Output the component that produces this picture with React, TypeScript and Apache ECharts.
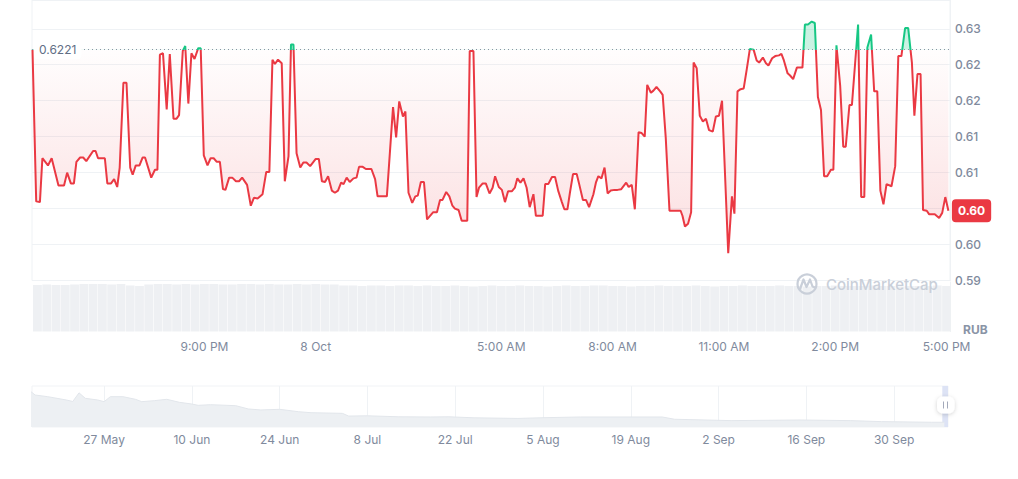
import React, { useEffect, useRef } from "react";
import * as echarts from "echarts";

// ---------- data ----------
const OPEN_PRICE = 0.6221;
// minutes after the open (7 Oct, 16:22)
const minutesFromOpen = [
  0, 6, 12, 16, 25, 31, 42, 51, 56, 62, 67, 71, 77, 82, 87, 98, 102, 106, 117, 121,
  127, 132, 137, 141, 147, 152, 158, 162, 167, 173, 178, 182, 192, 198, 202, 206, 211, 217, 222, 228,
  233, 237, 243, 247, 252, 257, 262, 268, 272, 277, 283, 288, 293, 298, 303, 308, 312, 318, 323, 329,
  334, 339, 347, 353, 358, 364, 372, 378, 383, 388, 392, 397, 403, 408, 414, 418, 422, 427, 433, 438,
  443, 449, 458, 463, 468, 473, 478, 484, 489, 494, 499, 503, 508, 513, 519, 524, 528, 534, 539, 548,
  554, 558, 573, 583, 588, 593, 599, 603, 608, 614, 619, 623, 628, 633, 638, 648, 654, 659, 663, 669,
  674, 679, 683, 689, 694, 703, 707, 713, 718, 722, 728, 733, 739, 744, 748, 754, 759, 764, 769, 775,
  780, 784, 789, 794, 799, 804, 810, 814, 825, 829, 834, 840, 845, 850, 856, 860, 865, 869, 874, 880,
  884, 890, 895, 900, 907, 911, 915, 920, 925, 930, 935, 941, 946, 952, 960, 964, 969, 974, 980, 985,
  990, 994, 1000, 1004, 1009, 1015, 1019, 1024, 1030, 1048, 1051, 1055, 1060, 1065, 1069, 1074, 1079, 1084, 1089, 1094,
  1100, 1105, 1110, 1115, 1125, 1131, 1135, 1140, 1145, 1150, 1155, 1160, 1166, 1171, 1175, 1181, 1186, 1190, 1196, 1201,
  1207, 1211, 1215, 1221, 1225, 1230, 1236, 1245, 1249, 1254, 1260, 1265, 1270, 1275, 1280, 1285, 1291, 1295, 1300, 1306,
  1311, 1315, 1321, 1325, 1335, 1340, 1345, 1350, 1356, 1361, 1366, 1371, 1376, 1381, 1389, 1395, 1400, 1405, 1411, 1416,
  1422, 1426, 1431, 1436, 1440, 1446, 1450, 1459, 1466, 1471, 1476, 1481,
];
const prices = [
  0.6221, 0.601, 0.6009, 0.607, 0.606, 0.607, 0.6032, 0.6032, 0.605, 0.6035, 0.6035, 0.6065, 0.6071, 0.6071, 0.6066, 0.608, 0.608, 0.607, 0.607, 0.6035,
  0.6035, 0.6041, 0.603, 0.6057, 0.6175, 0.6175, 0.6057, 0.6047, 0.606, 0.606, 0.6071, 0.6071, 0.6043, 0.6054, 0.6054, 0.6214, 0.6216, 0.6138, 0.6215, 0.6125,
  0.6125, 0.613, 0.6219, 0.6226, 0.6146, 0.6216, 0.6208, 0.6223, 0.6223, 0.6074, 0.606, 0.607, 0.607, 0.6065, 0.6065, 0.6027, 0.6026, 0.6043, 0.6043, 0.6038,
  0.6038, 0.6043, 0.6033, 0.6004, 0.6015, 0.6014, 0.602, 0.6051, 0.6051, 0.6207, 0.6201, 0.6207, 0.6202, 0.6038, 0.6073, 0.6228, 0.6228, 0.6077, 0.6057, 0.6064,
  0.6064, 0.6059, 0.6069, 0.6069, 0.6038, 0.6037, 0.6045, 0.6025, 0.6022, 0.6025, 0.6036, 0.6034, 0.6043, 0.6037, 0.6042, 0.6043, 0.6058, 0.6058, 0.6055, 0.6055,
  0.6041, 0.6017, 0.6017, 0.6141, 0.6099, 0.6149, 0.6128, 0.6135, 0.6022, 0.6008, 0.6017, 0.6018, 0.6037, 0.6037, 0.5985, 0.5995, 0.5995, 0.6012, 0.6012, 0.6023,
  0.6017, 0.6004, 0.6, 0.5998, 0.5983, 0.5983, 0.6219, 0.6219, 0.6016, 0.6029, 0.6035, 0.6035, 0.6021, 0.6029, 0.6045, 0.603, 0.6026, 0.6009, 0.6024, 0.6024,
  0.6029, 0.6042, 0.6036, 0.6042, 0.6029, 0.6002, 0.602, 0.599, 0.599, 0.6034, 0.6034, 0.6044, 0.6044, 0.6025, 0.6009, 0.5999, 0.5999, 0.6022, 0.6048, 0.6048,
  0.6034, 0.6012, 0.6012, 0.6002, 0.602, 0.6036, 0.6045, 0.6042, 0.6057, 0.6021, 0.6025, 0.6026, 0.6026, 0.6027, 0.6036, 0.603, 0.6033, 0.5999, 0.6106, 0.6105,
  0.61, 0.6172, 0.6161, 0.6164, 0.6169, 0.6163, 0.6158, 0.6098, 0.5997, 0.5997, 0.599, 0.5975, 0.5979, 0.5995, 0.6203, 0.6195, 0.6129, 0.6121, 0.6125, 0.6109,
  0.6107, 0.6128, 0.6129, 0.615, 0.5938, 0.6017, 0.5993, 0.6163, 0.6166, 0.6167, 0.6194, 0.6222, 0.6221, 0.6206, 0.6203, 0.621, 0.6202, 0.6199, 0.6209, 0.6212,
  0.6213, 0.6215, 0.6206, 0.6188, 0.6185, 0.618, 0.6196, 0.6196, 0.6256, 0.6256, 0.626, 0.6258, 0.6155, 0.6137, 0.6045, 0.6045, 0.6054, 0.6054, 0.6227, 0.6171,
  0.6086, 0.6086, 0.6144, 0.6144, 0.6256, 0.6016, 0.6016, 0.6224, 0.6242, 0.6163, 0.6163, 0.6025, 0.6006, 0.6034, 0.6031, 0.6059, 0.6212, 0.6212, 0.6251, 0.6251,
  0.6203, 0.6129, 0.6187, 0.6187, 0.5998, 0.5997, 0.5992, 0.5992, 0.5987, 0.5994, 0.6016, 0.5997,
];
// 15-minute volume bars starting 16:30 (relative units)
const volumes = [
  94, 95, 94, 94, 95, 96, 96, 96, 95, 96, 93, 92,
  95, 96, 96, 95, 96, 95, 96, 96, 95, 95, 96, 96, 95, 96, 95, 95, 96, 95, 96, 95, 95,
  93, 93, 92, 93, 93, 92, 93, 93,
  92, 93, 92, 92, 93, 92, 91, 92, 93, 92,
  92, 93, 92, 92, 91, 92, 93, 92, 92, 93,
  93, 92, 92, 91, 92, 92, 93, 92, 92, 92,
  93, 92, 91, 92, 92, 93, 92, 92, 92, 93,
  92, 92, 91, 92, 92, 93, 92, 92, 92, 93,
  92, 92, 91, 92, 92, 92, 93, 92,
];
// x tick labels: hours after 7 Oct 00:00
const hourTicks = [21, 24, 29, 32, 35, 38, 41];
const hourTickLabels = ["9:00 PM", "8 Oct", "5:00 AM", "8:00 AM", "11:00 AM", "2:00 PM", "5:00 PM"];

// long-range overview (navigator)
const historyDates = [
  "2024-05-15", "2024-05-16", "2024-05-18", "2024-05-21", "2024-05-22", "2024-05-23", "2024-05-24", "2024-05-26",
  "2024-05-27", "2024-05-28", "2024-05-30", "2024-06-01", "2024-06-02", "2024-06-04", "2024-06-06", "2024-06-08",
  "2024-06-10", "2024-06-11", "2024-06-13", "2024-06-17", "2024-06-19", "2024-06-21", "2024-06-24", "2024-06-27",
  "2024-06-29", "2024-07-04", "2024-07-05", "2024-07-08", "2024-07-13", "2024-07-18", "2024-07-21", "2024-07-25",
  "2024-08-01", "2024-08-05", "2024-08-11", "2024-08-24", "2024-08-26", "2024-09-04", "2024-09-15", "2024-09-23",
  "2024-09-28", "2024-10-06", "2024-10-08",
];
const historyPrices = [
  0.956, 0.901, 0.883, 0.846, 0.83, 0.925, 0.865, 0.846,
  0.828, 0.883, 0.883, 0.854, 0.828, 0.839, 0.854, 0.821,
  0.802, 0.788, 0.795, 0.784, 0.748, 0.737, 0.744, 0.718,
  0.707, 0.7, 0.67, 0.673, 0.662, 0.66, 0.662, 0.651,
  0.644, 0.652, 0.66, 0.66, 0.635, 0.62, 0.627, 0.62,
  0.609, 0.602, 0.602,
];
const historyTickDates = [
  "2024-05-27", "2024-06-10", "2024-06-24", "2024-07-08", "2024-07-22",
  "2024-08-05", "2024-08-19", "2024-09-02", "2024-09-16", "2024-09-30",
];
const historyTickLabels = ["27 May", "10 Jun", "24 Jun", "8 Jul", "22 Jul", "5 Aug", "19 Aug", "2 Sep", "16 Sep", "30 Sep"];

// ---------- helpers ----------
const MIN = 60000;
const OPEN_TIME = new Date(2024, 9, 7, 16, 22).getTime();
const parseDay = (s: string) => {
  const [y, m, d] = s.split("-").map(Number);
  return new Date(y, m - 1, d).getTime();
};

const RED = "#ea3943";
const GREEN = "#16c784";
const GRID_LINE = "#eff2f5";
const LABEL = "#808a9d";
const FONT = "Inter, 'Noto Sans', sans-serif";
const WATERMARK = "#c9cfd9";

export default function App() {
  const ref = useRef<HTMLDivElement>(null);

  useEffect(() => {
    document.body.style.margin = "0";
    if (!ref.current) return;
    const chart = echarts.init(ref.current, undefined, { renderer: "svg" });

    const priceData = minutesFromOpen.map((m, i) => [OPEN_TIME + m * MIN, prices[i]]);
    const volData = volumes.map((v, i) => [OPEN_TIME + (8 + 15 * i) * MIN, v]);
    const histData = historyDates.map((d, i) => [parseDay(d), historyPrices[i]]);
    const tickTimes = hourTicks.map((h) => new Date(2024, 9, 7, h).getTime());
    const histTicks = historyTickDates.map(parseDay);
    const lastT = priceData[priceData.length - 1][0];
    const lastP = prices[prices.length - 1];

    const xMin = OPEN_TIME - 0.8 * MIN;
    const xMax = OPEN_TIME + 1483.6 * MIN;

    const option: any = {
      animation: false,
      textStyle: { fontFamily: FONT },
      grid: [
        { left: 32, right: 68, top: -4, bottom: 198.5, show: true, borderColor: GRID_LINE, borderWidth: 1 },
        { left: 32, right: 68, top: 282, bottom: 147.5 },
        { left: 32, right: 70, top: 386, bottom: 52, show: true, borderColor: "#f1f3f6", borderWidth: 1 },
      ],
      xAxis: [
        {
          type: "value", gridIndex: 0, min: xMin, max: xMax,
          axisLine: { show: false }, axisTick: { show: false }, axisLabel: { show: false }, splitLine: { show: false },
        },
        {
          type: "value", gridIndex: 1, min: xMin, max: xMax,
          axisLine: { show: false }, axisTick: { show: false }, splitLine: { show: false },
          axisLabel: {
            customValues: tickTimes,
            margin: 9,
            color: LABEL,
            fontSize: 12,
            fontFamily: FONT,
            formatter: (v: number) => {
              const i = tickTimes.findIndex((t) => Math.abs(t - v) < MIN);
              return i >= 0 ? hourTickLabels[i] : "";
            },
          },
        },
        {
          type: "value", gridIndex: 2,
          min: new Date(2024, 4, 15, 12).getTime(),
          max: new Date(2024, 9, 8, 14, 10).getTime(),
          axisLine: { show: false },
          axisTick: { show: false, customValues: histTicks },
          splitLine: { show: true, lineStyle: { color: GRID_LINE, width: 1 } },
          axisLabel: {
            customValues: histTicks,
            margin: 6,
            color: LABEL,
            fontSize: 12,
            fontFamily: FONT,
            formatter: (v: number) => {
              const i = histTicks.findIndex((t) => Math.abs(t - v) < 3600000);
              return i >= 0 ? historyTickLabels[i] : "";
            },
          },
        },
      ],
      yAxis: [
        {
          type: "value", gridIndex: 0, position: "right",
          min: 0.59, max: 0.629, interval: 0.005,
          axisLine: { show: true, lineStyle: { color: GRID_LINE } },
          axisTick: { show: false },
          splitLine: { show: true, lineStyle: { color: GRID_LINE, width: 1 } },
          axisLabel: {
            margin: 5,
            color: LABEL,
            fontSize: 12,
            fontWeight: 500,
            fontFamily: FONT,
            formatter: (v: number) => {
              const k = Math.round(v * 1000);
              if (k % 5 !== 0) return "";
              if (Math.abs(v - lastP) < 0.002) return "";
              return (Math.round(k / 10) / 100).toFixed(2);
            },
          },
        },
        {
          type: "value", gridIndex: 1, position: "right", min: 0, max: 100,
          axisLine: { show: true, lineStyle: { color: GRID_LINE } },
          axisTick: { show: false }, axisLabel: { show: false }, splitLine: { show: false },
        },
        { type: "value", gridIndex: 2, min: 0.55, max: 1.0, show: false, splitLine: { show: false } },
      ],
      series: [
        {
          id: "price",
          type: "line",
          xAxisIndex: 0,
          yAxisIndex: 0,
          data: priceData,
          symbol: "none",
          showSymbol: false,
          lineStyle: { width: 2, color: RED },
          areaStyle: { origin: OPEN_PRICE, color: "rgba(234,57,67,0.1)" },
          markLine: {
            silent: true,
            symbol: "none",
            precision: 4,
            label: { show: false },
            lineStyle: { type: [1, 3], color: "#8a93a5", width: 1 },
            data: [{ yAxis: OPEN_PRICE }],
          },
          markPoint: {
            silent: true,
            data: [
              {
                coord: [OPEN_TIME, OPEN_PRICE],
                symbol: "circle",
                symbolSize: 1,
                itemStyle: { color: "rgba(0,0,0,0)" },
                label: {
                  show: true,
                  position: "right",
                  distance: 1,
                  formatter: OPEN_PRICE.toFixed(4),
                  backgroundColor: "#ffffff",
                  borderRadius: 4,
                  padding: [4, 5, 3, 5],
                  color: "#616e85",
                  fontSize: 12,
                  fontFamily: FONT,
                },
              },
              {
                coord: [lastT, lastP],
                symbol: "circle",
                symbolSize: 1,
                itemStyle: { color: "rgba(0,0,0,0)" },
                label: {
                  show: true,
                  position: "right",
                  distance: 3,
                  formatter: lastP.toFixed(2),
                  backgroundColor: RED,
                  borderRadius: 4,
                  padding: [6, 6, 5, 6],
                  color: "#ffffff",
                  fontWeight: 700,
                  fontSize: 12,
                  fontFamily: FONT,
                },
              },
            ],
          },
        },
        {
          type: "bar",
          xAxisIndex: 1,
          yAxisIndex: 1,
          data: volData,
          barWidth: 8.8,
          itemStyle: { color: "#eef0f3" },
          silent: true,
          z: 1,
        },
        {
          type: "line",
          xAxisIndex: 2,
          yAxisIndex: 2,
          data: histData,
          symbol: "none",
          lineStyle: { color: "#e2e6eb", width: 1 },
          areaStyle: { color: "#edf0f3", opacity: 1 },
          silent: true,
          markArea: {
            silent: true,
            itemStyle: { color: "#dde3f5" },
            data: [[{ xAxis: OPEN_TIME }, { xAxis: OPEN_TIME + 1478 * MIN }]],
          },
        },
      ],
      graphic: [
        {
          type: "circle",
          z: 100,
          silent: true,
          shape: { cx: 807, cy: 284, r: 9.5 },
          style: { fill: "none", stroke: WATERMARK, lineWidth: 2.2 },
        },
        {
          type: "polyline",
          z: 100,
          silent: true,
          shape: { points: [[800, 289], [803.5, 279.5], [806.5, 287], [810, 279.5], [812.5, 286.5], [815, 287.5]] },
          style: { fill: "none", stroke: WATERMARK, lineWidth: 2.2, lineJoin: "round", lineCap: "round" },
        },
        {
          type: "text",
          z: 100,
          silent: true,
          x: 826,
          y: 284,
          style: {
            text: "CoinMarketCap",
            fill: WATERMARK,
            fontSize: 15,
            fontWeight: 500,
            fontFamily: FONT,
            verticalAlign: "middle",
            textVerticalAlign: "middle",
          },
        },
        {
          type: "text",
          z: 100,
          x: 963,
          y: 329,
          silent: true,
          style: {
            text: "RUB",
            fill: "#8a94a6",
            fontSize: 12,
            fontWeight: 700,
            fontFamily: FONT,
            verticalAlign: "middle",
            textVerticalAlign: "middle",
          },
        },
        {
          type: "rect",
          z: 100,
          silent: true,
          shape: { x: 937, y: 396.5, width: 17.5, height: 17, r: 6 },
          style: { fill: "#ffffff", shadowBlur: 4, shadowColor: "rgba(0,0,0,0.18)", shadowOffsetY: 1 },
        },
        { type: "line", z: 101, silent: true, shape: { x1: 943.5, y1: 401.5, x2: 943.5, y2: 408.5 }, style: { stroke: "#a3a9ba", lineWidth: 1 } },
        { type: "line", z: 101, silent: true, shape: { x1: 947.5, y1: 401.5, x2: 947.5, y2: 408.5 }, style: { stroke: "#a3a9ba", lineWidth: 1 } },
      ],
    };

    chart.setOption(option);

    // colour the line / fill by position relative to the opening price
    const H = chart.getHeight();
    const yBase = chart.convertToPixel({ yAxisIndex: 0 } as any, OPEN_PRICE) as number;
    const yLow = chart.convertToPixel({ yAxisIndex: 0 } as any, 0.59) as number;
    const t = Math.min(Math.max(yBase / H, 0), 1);
    const tb = Math.min(Math.max(yLow / H, t), 1);
    chart.setOption({
      series: [
        {
          id: "price",
          lineStyle: {
            color: new echarts.graphic.LinearGradient(0, 0, 0, H, [
              { offset: 0, color: GREEN },
              { offset: t, color: GREEN },
              { offset: t, color: RED },
              { offset: 1, color: RED },
            ], true),
          },
          areaStyle: {
            origin: OPEN_PRICE,
            color: new echarts.graphic.LinearGradient(0, 0, 0, H, [
              { offset: 0, color: "rgba(22,199,132,0.32)" },
              { offset: t, color: "rgba(22,199,132,0.32)" },
              { offset: t, color: "rgba(234,57,67,0.01)" },
              { offset: tb, color: "rgba(234,57,67,0.27)" },
              { offset: 1, color: "rgba(234,57,67,0.27)" },
            ], true),
          },
        },
      ],
    });

    return () => chart.dispose();
  }, []);

  return <div ref={ref} style={{ width: 1018, height: 479 }} />;
}
